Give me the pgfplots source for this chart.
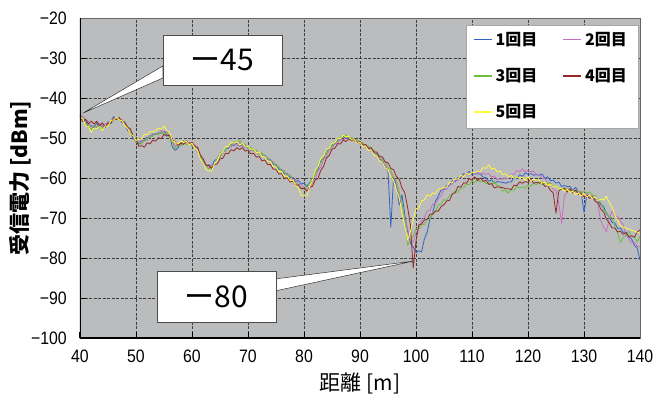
\documentclass[border=0pt]{standalone}
\usepackage{fontspec}
\usepackage{pgfplots}
\usepackage{pgfplotstable}
\pgfplotsset{compat=1.18}
\setmainfont{Liberation Sans}
\newfontfamily\cjk{Noto Sans CJK JP}
\newfontfamily\tickfont{Liberation Sans}[FakeStretch=0.88]
\definecolor{plotgray}{RGB}{187,188,190}
\definecolor{c1}{RGB}{50,100,200}
\definecolor{c2}{RGB}{200,110,190}
\definecolor{c3}{RGB}{110,190,60}
\definecolor{c4}{RGB}{150,40,40}
\definecolor{c5}{RGB}{255,250,60}
\pgfplotstableread{
x b m g r y
40.0 -44.3 -44.0 -44.6 -44.8 -44.9
40.5 -45.3 -44.6 -45.0 -45.9 -45.2
41.0 -45.5 -45.4 -46.6 -45.3 -47.0
41.5 -47.3 -45.8 -46.5 -46.5 -47.1
42.0 -46.9 -47.2 -48.0 -45.8 -48.6
42.5 -47.5 -46.8 -46.9 -46.5 -47.5
43.0 -46.2 -47.4 -47.2 -45.8 -47.7
43.5 -47.5 -46.3 -46.9 -46.9 -47.1
44.0 -46.9 -47.3 -47.9 -46.2 -48.2
44.5 -47.3 -46.4 -46.8 -47.3 -47.0
45.0 -46.0 -46.7 -47.2 -46.3 -47.1
45.5 -45.9 -45.6 -45.7 -46.4 -45.6
46.0 -44.7 -45.7 -45.6 -45.2 -45.5
46.5 -45.2 -44.8 -44.9 -45.4 -44.8
47.0 -45.0 -45.4 -45.6 -44.9 -45.5
47.5 -46.2 -45.3 -45.5 -45.9 -45.7
48.0 -46.4 -46.8 -46.9 -46.0 -46.9
48.5 -48.1 -47.1 -47.3 -47.3 -47.6
49.0 -48.6 -48.8 -48.9 -47.7 -49.1
49.5 -50.2 -49.3 -49.4 -49.5 -49.4
50.0 -50.3 -50.8 -51.1 -50.3 -50.6
50.5 -51.6 -50.7 -51.2 -52.1 -50.3
51.0 -50.7 -51.1 -51.5 -51.9 -50.2
51.5 -50.7 -50.3 -50.4 -52.3 -49.1
52.0 -49.8 -50.2 -50.6 -51.2 -49.2
52.5 -49.8 -49.3 -49.6 -51.5 -48.4
53.0 -49.0 -49.3 -49.7 -50.5 -48.5
53.5 -49.1 -48.9 -48.8 -50.8 -48.1
54.0 -48.7 -49.0 -49.2 -49.9 -47.5
54.5 -48.8 -48.1 -48.5 -50.2 -47.8
55.0 -48.3 -48.5 -48.9 -49.1 -47.0
55.5 -49.2 -48.3 -48.7 -49.5 -48.1
56.0 -49.5 -49.6 -49.9 -49.3 -48.6
56.5 -52.3 -50.6 -51.1 -50.6 -50.7
57.0 -53.1 -52.2 -52.8 -50.8 -51.0
57.5 -52.5 -51.4 -51.8 -51.8 -51.5
58.0 -51.2 -51.5 -52.0 -51.3 -50.7
58.5 -51.3 -50.6 -50.9 -51.6 -51.1
59.0 -50.9 -51.3 -51.7 -50.7 -50.8
59.5 -51.4 -51.1 -51.2 -51.5 -51.7
60.0 -51.3 -51.7 -52.1 -51.0 -51.3
60.5 -52.4 -51.6 -52.0 -52.1 -52.5
61.0 -52.7 -53.1 -53.5 -52.3 -53.1
61.5 -54.8 -54.0 -54.3 -54.3 -55.3
62.0 -55.7 -56.1 -56.5 -55.2 -56.3
62.5 -56.9 -56.6 -56.7 -56.8 -57.9
63.0 -56.7 -57.6 -57.8 -56.9 -58.2
63.5 -57.1 -56.7 -57.1 -57.6 -58.3
64.0 -55.6 -56.7 -56.9 -56.6 -56.5
64.5 -55.3 -55.3 -55.2 -56.5 -55.7
65.0 -53.8 -54.9 -54.8 -55.2 -53.9
65.5 -53.5 -53.5 -53.3 -55.1 -53.5
66.0 -52.5 -53.3 -53.3 -53.8 -52.2
66.5 -52.6 -52.0 -51.9 -53.9 -52.1
67.0 -51.6 -52.3 -51.9 -52.9 -51.0
67.5 -51.9 -51.2 -50.9 -53.2 -51.3
68.0 -51.2 -51.9 -51.1 -52.4 -50.9
68.5 -52.1 -51.1 -50.4 -52.9 -51.8
69.0 -51.6 -52.2 -51.5 -52.4 -51.3
69.5 -52.5 -51.8 -51.5 -53.3 -52.3
70.0 -52.2 -52.7 -52.6 -53.0 -52.1
70.5 -53.1 -52.3 -52.3 -54.0 -52.9
71.0 -52.7 -53.3 -53.2 -53.8 -52.7
71.5 -53.7 -53.1 -53.0 -54.8 -53.7
72.0 -53.6 -54.0 -54.0 -54.6 -53.5
72.5 -54.5 -53.9 -53.7 -55.7 -54.7
73.0 -54.3 -54.8 -54.8 -55.5 -54.6
73.5 -55.5 -54.8 -54.8 -56.6 -55.8
74.0 -55.4 -55.9 -56.1 -56.6 -55.9
74.5 -56.6 -55.8 -56.0 -57.8 -57.1
75.0 -56.6 -57.1 -57.2 -57.8 -57.2
75.5 -57.8 -57.1 -57.1 -59.0 -58.4
76.0 -57.9 -58.3 -58.4 -58.9 -58.4
76.5 -59.0 -58.2 -58.3 -60.1 -59.6
77.0 -58.9 -59.3 -59.4 -59.9 -59.5
77.5 -59.9 -59.2 -59.4 -61.0 -60.6
78.0 -59.8 -60.3 -60.7 -60.8 -60.5
78.5 -60.9 -60.3 -61.0 -61.8 -61.9
79.0 -60.6 -61.6 -62.6 -61.7 -62.5
79.5 -61.5 -61.6 -62.5 -62.7 -64.3
80.0 -61.3 -62.7 -62.9 -62.5 -64.5
80.5 -62.2 -62.7 -61.7 -63.3 -64.5
81.0 -61.2 -62.8 -61.5 -62.3 -62.2
81.5 -60.9 -61.2 -59.9 -62.1 -60.7
82.0 -58.7 -60.3 -59.1 -60.5 -58.1
82.5 -57.7 -58.2 -57.1 -60.1 -57.1
83.0 -55.7 -57.3 -56.3 -58.1 -55.1
83.5 -55.0 -55.3 -54.5 -57.1 -54.5
84.0 -53.2 -54.7 -54.1 -55.0 -52.9
84.5 -52.9 -53.0 -52.6 -54.4 -52.6
85.0 -51.6 -52.7 -52.3 -52.8 -51.3
85.5 -51.5 -51.3 -50.9 -52.6 -51.2
86.0 -50.4 -51.3 -50.9 -51.4 -50.0
86.5 -50.5 -50.2 -49.7 -51.5 -50.2
87.0 -49.5 -50.5 -49.9 -50.5 -49.3
87.5 -50.2 -49.7 -49.2 -50.9 -49.7
88.0 -49.8 -50.2 -50.1 -50.2 -49.5
88.5 -50.6 -49.9 -49.8 -50.7 -50.5
89.0 -50.2 -50.9 -50.7 -50.3 -50.4
89.5 -51.2 -50.7 -50.4 -51.2 -51.3
90.0 -50.9 -51.6 -51.3 -50.9 -51.1
90.5 -51.8 -51.4 -51.1 -51.8 -52.1
91.0 -51.6 -52.4 -52.1 -51.6 -52.0
91.5 -52.7 -52.3 -51.9 -52.6 -53.1
92.0 -52.6 -53.4 -53.0 -52.4 -53.0
92.5 -53.8 -53.4 -53.0 -53.5 -54.3
93.0 -53.9 -54.7 -54.3 -53.5 -54.5
93.5 -55.3 -54.9 -54.3 -54.7 -55.9
94.0 -55.5 -56.5 -55.6 -54.7 -56.1
94.5 -57.3 -56.7 -55.9 -56.0 -57.5
95.0 -58.2 -58.2 -57.5 -56.2 -57.9
95.5 -72.3 -58.7 -58.0 -57.6 -59.7
96.0 -59.8 -60.7 -59.8 -57.9 -60.6
96.5 -61.7 -61.7 -60.7 -59.6 -63.1
97.0 -66.8 -64.3 -63.5 -60.3 -65.0
97.5 -64.2 -66.3 -66.1 -62.5 -68.8
98.0 -69.3 -70.1 -70.8 -63.7 -72.0
98.5 -73.2 -72.7 -76.8 -67.3 -75.5
99.0 -76.3 -75.7 -75.5 -71.7 -73.5
99.5 -77.2 -76.0 -74.5 -82.5 -70.5
100.0 -78.6 -73.7 -72.7 -75.8 -67.7
100.5 -78.2 -72.8 -72.7 -71.7 -67.5
101.0 -78.5 -70.7 -71.7 -71.5 -65.7
101.5 -75.2 -69.8 -71.6 -70.5 -65.5
102.0 -73.5 -68.2 -70.3 -70.3 -64.2
102.5 -70.2 -68.1 -70.3 -69.0 -64.6
103.0 -68.6 -66.5 -68.7 -69.1 -63.7
103.5 -65.7 -66.3 -68.3 -68.2 -63.9
104.0 -64.5 -65.1 -66.7 -68.3 -62.7
104.5 -63.0 -64.5 -66.5 -67.1 -62.7
105.0 -62.9 -62.9 -65.4 -66.7 -62.3
105.5 -61.9 -62.8 -65.6 -65.7 -62.3
106.0 -61.9 -61.7 -64.3 -65.6 -61.0
106.5 -60.6 -61.5 -64.2 -63.9 -61.1
107.0 -60.9 -60.5 -63.3 -63.7 -60.1
107.5 -59.9 -60.6 -63.6 -62.1 -60.3
108.0 -59.9 -59.5 -62.5 -62.3 -59.3
108.5 -58.9 -59.6 -62.5 -61.2 -59.7
109.0 -59.1 -58.7 -61.5 -61.3 -58.8
109.5 -58.3 -59.4 -61.7 -60.2 -59.2
110.0 -59.2 -58.5 -60.7 -60.5 -58.5
110.5 -58.9 -58.9 -61.2 -59.7 -58.7
111.0 -59.0 -58.6 -60.3 -60.7 -58.3
111.5 -59.0 -59.0 -61.1 -60.0 -58.3
112.0 -59.8 -58.8 -60.7 -60.8 -57.4
112.5 -59.9 -59.1 -61.5 -60.6 -57.6
113.0 -60.8 -58.9 -61.2 -61.6 -56.7
113.5 -60.5 -59.8 -61.6 -61.4 -57.8
114.0 -61.3 -59.5 -60.9 -62.5 -57.5
114.5 -60.9 -60.5 -61.9 -62.2 -58.5
115.0 -61.0 -60.2 -62.0 -62.3 -58.2
115.5 -61.1 -60.3 -63.3 -62.4 -59.2
116.0 -61.3 -60.0 -63.1 -62.7 -58.9
116.5 -61.0 -60.1 -63.8 -62.7 -59.8
117.0 -61.0 -59.0 -62.9 -62.9 -59.3
117.5 -59.9 -59.1 -63.1 -61.8 -60.1
118.0 -60.1 -58.1 -62.1 -61.9 -59.7
118.5 -59.2 -58.5 -62.5 -61.0 -60.1
119.0 -59.6 -57.7 -62.2 -61.3 -59.8
119.5 -58.7 -58.5 -62.6 -60.9 -60.6
120.0 -59.1 -58.1 -61.7 -61.1 -59.7
120.5 -58.9 -58.4 -62.1 -60.3 -60.7
121.0 -59.3 -58.3 -61.3 -61.3 -60.3
121.5 -59.1 -59.3 -61.7 -61.1 -60.5
122.0 -59.3 -59.0 -60.9 -61.3 -60.5
122.5 -59.0 -60.1 -61.7 -61.0 -61.3
123.0 -60.1 -60.1 -61.3 -62.1 -61.0
123.5 -59.7 -61.3 -61.6 -61.9 -61.9
124.0 -60.7 -61.3 -61.1 -63.1 -61.5
124.5 -60.5 -62.8 -62.2 -63.7 -62.3
125.0 -61.3 -63.2 -61.9 -68.8 -62.0
125.5 -61.0 -66.3 -62.8 -63.2 -62.8
126.0 -62.1 -71.3 -62.5 -62.7 -62.5
126.5 -61.9 -64.5 -62.9 -62.5 -63.3
127.0 -62.1 -63.5 -62.5 -63.5 -62.8
127.5 -62.1 -62.5 -63.3 -62.7 -63.6
128.0 -63.1 -63.3 -63.0 -63.7 -63.3
128.5 -62.3 -63.1 -63.3 -63.0 -64.2
129.0 -63.5 -63.3 -63.1 -64.1 -63.7
129.5 -63.7 -63.3 -63.8 -63.9 -64.5
130.0 -68.6 -64.1 -63.3 -64.7 -63.8
130.5 -64.2 -63.7 -63.7 -64.3 -64.7
131.0 -64.6 -64.6 -63.5 -65.1 -64.3
131.5 -64.5 -64.5 -64.3 -64.7 -65.1
132.0 -65.3 -65.7 -64.3 -65.8 -64.7
132.5 -65.3 -66.7 -65.6 -66.1 -65.6
133.0 -66.7 -70.8 -66.1 -67.8 -65.3
133.5 -67.1 -72.2 -68.1 -68.5 -65.5
134.0 -68.9 -73.4 -68.5 -70.3 -64.6
134.5 -69.7 -70.3 -69.8 -71.2 -66.1
135.0 -71.1 -68.3 -69.9 -72.5 -67.2
135.5 -71.2 -69.7 -72.1 -72.5 -69.3
136.0 -72.6 -69.5 -73.7 -73.5 -70.5
136.5 -72.5 -70.8 -76.1 -73.3 -72.0
137.0 -73.6 -71.7 -74.9 -74.1 nan
137.5 -73.5 -74.3 -74.3 -73.7 nan
138.0 -74.7 -75.2 -73.3 -74.6 nan
138.5 -75.2 -76.1 -74.5 -74.5 nan
139.0 -76.9 -76.0 -74.7 -74.8 nan
139.5 -77.5 -77.1 -75.9 -73.5 nan
140.0 -80.5 -77.2 -74.6 -73.0 -73.8
}\data
\begin{document}
\begin{tikzpicture}
\useasboundingbox (0,0) rectangle (669pt,400pt);
\begin{axis}[
  at={(80pt,62pt)}, anchor=south west,
  scale only axis, width=560pt, height=320pt,
  xmin=40, xmax=140, ymin=-100, ymax=-20,
  xtick={40,50,...,140}, ytick={-100,-90,...,-20},
  xticklabels={40,50,60,70,80,90,100,110,120,130,140},
  yticklabels={−100,−90,−80,−70,−60,−50,−40,−30,−20},
  xtick pos=bottom, ytick pos=left, tick align=inside,
  major tick length=6pt, tick style={black, line width=1pt},
  grid=major, grid style={black!75, line width=0.7pt, dash pattern=on 3pt off 1.5pt},
  axis background/.style={fill=plotgray},
  axis line style={black!60, line width=0.6pt},
  ticklabel style={font=\tickfont\fontsize{18}{20}\selectfont},
  xticklabel style={inner sep=0pt, yshift=-12pt},
  yticklabel style={inner sep=0pt, xshift=-13pt},
  xlabel={距離 [m]}, ylabel={受信電力 [dBm]},
  xlabel style={font=\cjk\fontsize{21}{24}\selectfont, at={(axis description cs:0.5,-0.1406)}, anchor=center},
  ylabel style={font=\cjk\bfseries\fontsize{21}{24}\selectfont, at={(axis description cs:-0.107,0.5)}, anchor=center},
  legend columns=2,
  legend style={at={(axis description cs:1,1)}, anchor=north east, xshift=-2pt, yshift=-7pt,
    fill=none, draw=none, font=\cjk\bfseries\fontsize{16}{18}\selectfont,
    inner xsep=11pt, inner ysep=7pt, row sep=21.5pt, legend cell align=left,
    /tikz/every odd column/.append style={column sep=3pt},
    /tikz/every even column/.append style={column sep=25pt},
    nodes={inner sep=0pt}},
  legend image code/.code={\draw[#1, line width=1.8pt] plot coordinates {(0pt,0pt) (18pt,0pt)};},
]
\addplot[draw=c1, line width=0.8pt, line join=round] table[x=x,y=b]{\data};
\addlegendentry{1回目}
\addplot[draw=c2, line width=0.8pt, line join=round] table[x=x,y=m]{\data};
\addlegendentry{2回目}
\addplot[draw=c3, line width=0.8pt, line join=round] table[x=x,y=g]{\data};
\addlegendentry{3回目}
\addplot[draw=c4, line width=0.8pt, line join=round] table[x=x,y=r]{\data};
\addlegendentry{4回目}
\addplot[draw=c5, line width=0.8pt, line join=round] table[x=x,y=y]{\data};
\addlegendentry{5回目}
\draw[black, line width=2.5pt] (rel axis cs:0,1) -- (rel axis cs:0,0) -- (rel axis cs:1,0);
\draw[fill=white, draw=black!35, line width=0.5pt] (axis description cs:0.689,0.978) rectangle (axis description cs:0.9964,0.656);
\draw[fill=white, draw=black!80, line width=0.5pt] (axis cs:54.8,-32) -- (axis cs:40.5,-43.8) -- (axis cs:54.8,-35) -- cycle;
\node[draw=black!70, fill=white, line width=0.5pt, minimum width=119pt, minimum height=50pt, inner sep=0pt, font=\cjk\fontsize{30}{32}\selectfont] at (axis cs:65.45,-30.5) {ー45};
\draw[fill=white, draw=black!80, line width=0.5pt] (axis cs:74.8,-85.25) -- (axis cs:99.64,-80.75) -- (axis cs:74.8,-88.25) -- cycle;
\node[draw=black!70, fill=white, line width=0.5pt, minimum width=119pt, minimum height=51pt, inner sep=0pt, font=\cjk\fontsize{30}{32}\selectfont] at (axis cs:64.375,-89.6) {ー80};
\end{axis}
\end{tikzpicture}
\end{document}
